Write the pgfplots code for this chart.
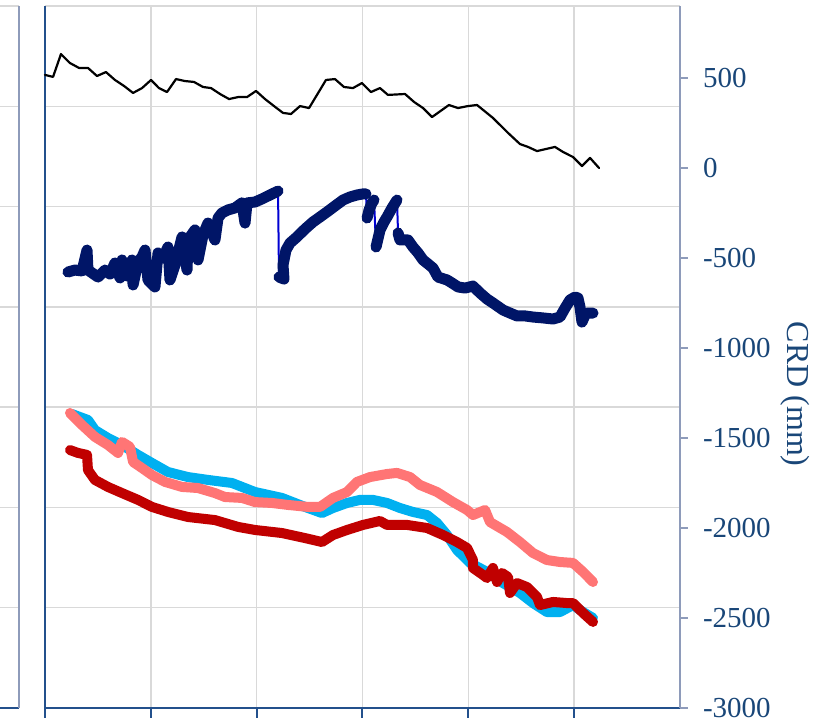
\documentclass[border=0pt]{standalone}
\usepackage{pgfplots}
\pgfplotsset{compat=1.18}
\usepackage{fontspec}
\setmainfont{Liberation Serif}
\definecolor{axisblue}{RGB}{25,70,120}
\definecolor{axdark}{RGB}{35,80,140}
\definecolor{axgray}{RGB}{142,155,186}
\definecolor{gridc}{RGB}{217,217,217}
\definecolor{navyc}{RGB}{0,21,103}
\definecolor{bluec}{RGB}{0,0,210}
\definecolor{cyanc}{RGB}{0,176,240}
\definecolor{salmonc}{RGB}{255,117,117}
\definecolor{dredc}{RGB}{192,0,0}
\begin{document}
\begin{tikzpicture}[x=1pt,y=1pt]
\path[use as bounding box] (0,0) rectangle (415.5,363.5);
% left fragment of neighbouring panel
\begin{axis}[
  at={(9.5pt,9.5pt)}, anchor=south west, xshift=-150pt, scale only axis,
  width=150pt, height=351pt,
  xmin=0, xmax=1, ymin=0, ymax=7,
  axis x line*=bottom, axis y line*=right,
  xtick=\empty, ytick={0,...,7}, yticklabels={},
  ymajorgrids, grid style={gridc, line width=0.75pt},
  ytick style={draw=none},
  x axis line style={axdark, line width=1pt, -},
  y axis line style={axgray, line width=1pt, -},
]
\end{axis}
% grid axis (primary)
\begin{axis}[
  at={(22.5pt,9.5pt)}, anchor=south west, scale only axis,
  width=317.5pt, height=351pt,
  xmin=0, xmax=6, ymin=0, ymax=7,
  axis x line*=bottom, axis y line*=left,
  xtick={0,...,5}, ytick={0,...,7},
  xmajorgrids, ymajorgrids,
  grid style={gridc, line width=0.75pt},
  xticklabels={}, yticklabels={},
  tick align=outside, major tick length=5pt,
  x axis line style={axdark, line width=1pt, -},
  y axis line style={axdark, line width=1pt, -},
  xtick style={axdark, line width=1pt},
  ytick style={draw=none},
]
\end{axis}
% data axis (secondary, right)
\begin{axis}[
  at={(22.5pt,9.5pt)}, anchor=south west, scale only axis,
  width=317.5pt, height=351pt,
  xmin=0, xmax=6, ymin=-3000, ymax=900,
  axis y line*=right, axis x line=none,
  ytick={-3000,-2500,-2000,-1500,-1000,-500,0,500},
  yticklabels={-3000,-2500,-2000,-1500,-1000,-500,0,500},
  tick align=outside, major tick length=4pt,
  y axis line style={axgray, line width=1pt, -},
  ytick style={axgray, line width=1pt},
  yticklabel style={text=axisblue, anchor=west, xshift=4pt, font=\fontsize{14.5}{14.5}\selectfont},
  clip=false,
  every axis plot/.append style={line join=round, line cap=round},
]
% black series
\addplot[black, line width=1.1pt] coordinates {
(0,517) (0.076,506) (0.151,633) (0.236,583) (0.321,556) (0.406,556) (0.491,511) (0.576,533)
(0.661,489) (0.746,456) (0.832,417) (0.917,444) (1.002,489) (1.077,444) (1.153,422) (1.238,494)
(1.323,483) (1.408,478) (1.493,450) (1.569,444) (1.654,411) (1.739,383) (1.824,394) (1.909,394)
(1.994,428) (2.079,383) (2.164,344) (2.249,306) (2.324,300) (2.410,344) (2.495,333) (2.655,489)
(2.740,494) (2.825,450) (2.910,444) (2.995,472) (3.080,422) (3.165,444) (3.241,406) (3.402,411)
(3.487,367) (3.572,333) (3.657,283) (3.817,350) (3.902,333) (3.997,344) (4.082,350) (4.233,278)
(4.366,200) (4.488,133) (4.564,117) (4.649,94) (4.819,117) (4.895,89) (4.989,61) (5.074,11)
(5.150,56) (5.235,0)
};
% thin blue connector of navy series
\addplot[bluec, line width=1pt] coordinates {
(0.217,-578) (0.283,-567) (0.350,-572) (0.397,-456) (0.406,-567) (0.501,-606) (0.567,-567)
(0.614,-589) (0.661,-528) (0.709,-611) (0.728,-511) (0.775,-600) (0.822,-511) (0.832,-650)
(0.879,-522) (0.917,-494) (0.945,-456) (0.973,-622) (1.039,-661) (1.068,-472) (1.115,-500)
(1.162,-439) (1.181,-622) (1.228,-539) (1.295,-383) (1.342,-567) (1.351,-400) (1.417,-344)
(1.446,-511) (1.493,-372) (1.540,-306) (1.606,-400) (1.635,-278) (1.672,-250) (1.729,-233)
(1.795,-222) (1.861,-194) (1.890,-306) (1.909,-194) (1.984,-189) (2.050,-172) (2.126,-150)
(2.202,-128) (2.211,-606) (2.258,-617) (2.249,-539) (2.277,-456) (2.315,-417) (2.381,-383)
(2.457,-339) (2.532,-300) (2.599,-272) (2.665,-244) (2.740,-211) (2.816,-178) (2.882,-161)
(2.948,-150) (3.005,-144) (3.033,-144) (3.043,-278) (3.062,-233) (3.090,-194) (3.109,-178)
(3.128,-439) (3.166,-344) (3.203,-300) (3.232,-272) (3.279,-222) (3.326,-178) (3.336,-361)
(3.354,-400) (3.430,-400) (3.477,-439) (3.525,-472) (3.572,-511) (3.619,-533) (3.666,-556)
(3.713,-606) (3.799,-622) (3.846,-639) (3.903,-661) (3.969,-667) (4.044,-656) (4.110,-694)
(4.177,-728) (4.233,-750) (4.328,-789) (4.394,-806) (4.460,-822) (4.536,-822) (4.611,-828)
(4.706,-833) (4.800,-839) (4.866,-828) (4.914,-778) (4.961,-733) (5.008,-717) (5.036,-722)
(5.055,-772) (5.074,-856) (5.103,-817) (5.122,-806) (5.178,-806)
};
% navy thick segments
\addplot[navyc, line width=5.5pt] coordinates {
(0.217,-578) (0.283,-567) (0.350,-572) (0.397,-456) (0.406,-567) (0.501,-606) (0.567,-567)
(0.614,-589) (0.661,-528) (0.709,-611) (0.728,-511) (0.775,-600) (0.822,-511) (0.832,-650)
(0.879,-522) (0.917,-494) (0.945,-456) (0.973,-622) (1.039,-661) (1.068,-472) (1.115,-500)
(1.162,-439) (1.181,-622) (1.228,-539) (1.295,-383) (1.342,-567) (1.351,-400) (1.417,-344)
(1.446,-511) (1.493,-372) (1.540,-306) (1.606,-400) (1.635,-278) (1.672,-250) (1.729,-233)
(1.795,-222) (1.861,-194) (1.890,-306) (1.909,-194) (1.984,-189) (2.050,-172) (2.126,-150)
(2.202,-128)
};
\addplot[navyc, line width=5.5pt] coordinates {
(2.211,-606) (2.258,-617) (2.249,-539) (2.277,-456) (2.315,-417) (2.381,-383)
(2.457,-339) (2.532,-300) (2.599,-272) (2.665,-244) (2.740,-211) (2.816,-178) (2.882,-161)
(2.948,-150) (3.005,-144) (3.033,-144)
};
\addplot[navyc, line width=5.5pt] coordinates {
(3.043,-278) (3.062,-233) (3.090,-194) (3.109,-178)
};
\addplot[navyc, line width=5.5pt] coordinates {
(3.128,-439) (3.166,-344) (3.203,-300) (3.232,-272) (3.279,-222) (3.326,-178)
};
\addplot[navyc, line width=5.5pt] coordinates {
(3.336,-361) (3.354,-400) (3.430,-400) (3.477,-439) (3.525,-472) (3.572,-511) (3.619,-533)
(3.666,-556) (3.713,-606) (3.799,-622) (3.846,-639) (3.903,-661) (3.969,-667) (4.044,-656)
(4.110,-694) (4.177,-728) (4.233,-750) (4.328,-789) (4.394,-806) (4.460,-822) (4.536,-822)
(4.611,-828) (4.706,-833) (4.800,-839) (4.866,-828) (4.914,-778) (4.961,-733) (5.008,-717)
(5.036,-722) (5.055,-772) (5.074,-856) (5.103,-817) (5.122,-806) (5.178,-806)
};
% cyan
\addplot[cyanc, line width=5pt] coordinates {
(0.255,-1367) (0.406,-1400) (0.472,-1456) (0.595,-1500) (0.728,-1539) (0.879,-1594)
(1.011,-1639) (1.162,-1689) (1.351,-1717) (1.540,-1733) (1.767,-1750) (1.984,-1800)
(2.239,-1833) (2.457,-1883) (2.617,-1917) (2.721,-1889) (2.854,-1861) (2.976,-1844)
(3.099,-1844) (3.232,-1861) (3.354,-1889) (3.477,-1911) (3.610,-1928) (3.704,-1972)
(3.799,-2039) (3.893,-2122) (4.016,-2194) (4.177,-2244) (4.328,-2306) (4.488,-2361)
(4.611,-2417) (4.743,-2467) (4.866,-2467) (4.989,-2428) (5.084,-2467) (5.178,-2500)
};
% salmon
\addplot[salmonc, line width=5pt] coordinates {
(0.236,-1361) (0.350,-1428) (0.472,-1494) (0.595,-1539) (0.690,-1583) (0.728,-1522)
(0.775,-1539) (0.803,-1550) (0.832,-1633) (0.917,-1667) (1.011,-1706) (1.134,-1744)
(1.295,-1772) (1.446,-1778) (1.606,-1806) (1.701,-1828) (1.861,-1833) (1.984,-1856)
(2.145,-1861) (2.296,-1872) (2.485,-1883) (2.599,-1883) (2.721,-1833) (2.854,-1800)
(2.948,-1744) (3.071,-1717) (3.232,-1700) (3.326,-1694) (3.449,-1717) (3.543,-1761)
(3.704,-1800) (3.855,-1856) (3.988,-1900) (4.044,-1928) (4.158,-1900) (4.205,-1967)
(4.365,-2022) (4.488,-2078) (4.611,-2139) (4.743,-2178) (4.866,-2189) (4.989,-2194)
(5.084,-2244) (5.178,-2300)
};
% dark red
\addplot[dredc, line width=5pt] coordinates {
(0.236,-1567) (0.312,-1583) (0.397,-1594) (0.406,-1678) (0.472,-1733) (0.595,-1772)
(0.728,-1806) (0.879,-1844) (1.011,-1883) (1.162,-1911) (1.351,-1939) (1.606,-1956)
(1.824,-1994) (1.984,-2011) (2.239,-2028) (2.457,-2056) (2.617,-2078) (2.721,-2039)
(2.854,-2011) (3.005,-1983) (3.165,-1961) (3.232,-1983) (3.421,-1983) (3.610,-2000)
(3.761,-2039) (3.893,-2078) (3.988,-2111) (4.044,-2178) (4.044,-2222) (4.139,-2261)
(4.177,-2278) (4.233,-2222) (4.271,-2300) (4.318,-2250) (4.375,-2272) (4.394,-2361)
(4.460,-2306) (4.554,-2328) (4.649,-2383) (4.677,-2428) (4.800,-2411) (4.932,-2417)
(4.989,-2417) (5.084,-2472) (5.178,-2522)
};
\node[rotate=-90, text=axisblue, font=\fontsize{16}{16}\selectfont] at (rel axis cs:1.181,0.447) {CRD (mm)};
\end{axis}
\end{tikzpicture}
\end{document}
